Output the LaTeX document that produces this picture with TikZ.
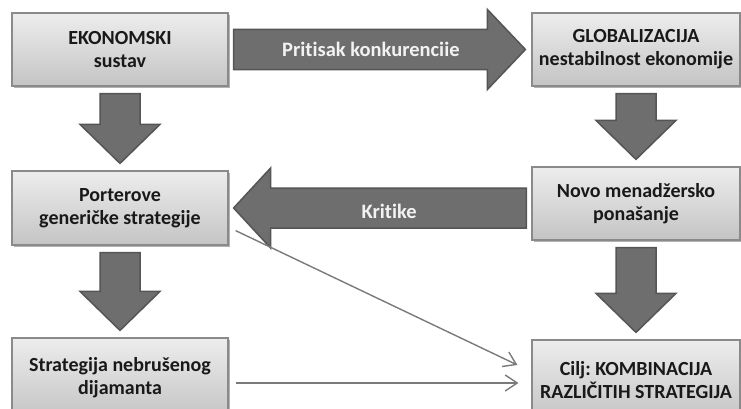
\documentclass[tikz,border=0pt]{standalone}
\usepackage{fontspec}
\setmainfont[Ligatures=NoCommon]{Carlito}
\frenchspacing
\usetikzlibrary{calc, shadows, arrows.meta}

\definecolor{boxtop}{HTML}{EDEDED}
\definecolor{boxbottom}{HTML}{C4C4C4}
\definecolor{boxline}{HTML}{8A8A8A}
\definecolor{arrowfill}{HTML}{6E6E6E}
\definecolor{arrowline}{HTML}{555555}
\definecolor{thinline}{HTML}{7A7A7A}

\tikzset{
    box/.style={draw=boxline, line width=1.2pt, top color=boxtop, bottom color=boxbottom,
        minimum height=73pt, align=center, text=black!90,
        font=\fontsize{20}{23}\selectfont\bfseries,
        drop shadow={shadow xshift=2pt, shadow yshift=-2pt, opacity=0.3, fill=black}},
    bigarrow/.style={fill=arrowfill, draw=arrowline, line width=1.5pt, line join=miter},
    arrowtext/.style={text=white!95!black, font=\fontsize{20.5}{22}\selectfont\bfseries},
    thinarrow/.style={draw=thinline, line width=1.4pt, -{Straight Barb[length=12pt, width=16pt]}}
}

% block arrows between boxes
\newcommand{\bigdown}[2]{%
    \draw[bigarrow] let \p1 = (#1.south), \p2 = (#2.north) in
        (\x1-20pt,\y1-7pt) -- (\x1+20pt,\y1-7pt) -- (\x1+20pt,\y2+46pt)
        -- (\x1+40pt,\y2+46pt) -- (\x1,\y2+7pt) -- (\x1-40pt,\y2+46pt)
        -- (\x1-20pt,\y2+46pt) -- cycle;
}
\newcommand{\bigright}[3]{%
    \draw[bigarrow] let \p1 = (#1.east), \p2 = (#2.west) in
        (\x1+5pt,\y1+20pt) -- (\x2-44pt,\y1+20pt) -- (\x2-44pt,\y1+40pt)
        -- (\x2-6pt,\y1) -- (\x2-44pt,\y1-40pt) -- (\x2-44pt,\y1-20pt)
        -- (\x1+5pt,\y1-20pt) -- cycle
        ({0.53*\x1+0.47*\x2},\y1) node[arrowtext] {#3};
}
\newcommand{\bigleft}[3]{%
    \draw[bigarrow] let \p1 = (#1.west), \p2 = (#2.east) in
        (\x1-5pt,\y2+20pt) -- (\x2+42pt,\y2+20pt) -- (\x2+42pt,\y2+40pt)
        -- (\x2+5pt,\y2) -- (\x2+42pt,\y2-40pt) -- (\x2+42pt,\y2-20pt)
        -- (\x1-5pt,\y2-20pt) -- cycle
        ({0.53*\x1+0.47*\x2},\y2-3pt) node[arrowtext] {#3};
}

\begin{document}
\begin{tikzpicture}[x=1pt, y=1pt]
    \useasboundingbox (0,0) rectangle (741,408);
    \clip (0,0) rectangle (741,408);

    % boxes
    \node[box, minimum width=216pt] (eko) at (120,358.5) {EKONOMSKI\\sustav};
    \node[box, minimum width=208pt] (glob) at (636,358.5) {GLOBALIZACIJA\\nestabilnost ekonomije};
    \node[box, minimum width=216pt, minimum height=74pt] (port) at (120,200) {Porterove\\generičke strategije};
    \node[box, minimum width=208pt] (novo) at (636,204.5) {Novo menadžersko\\ponašanje};
    \node[box, minimum width=216pt, minimum height=80pt] (strat) at (120,30) {Strategija nebrušenog\\dijamanta};
    \node[box, minimum width=208pt, minimum height=80pt] (cilj) at (636,28) {Cilj: KOMBINACIJA\\RAZLIČITIH STRATEGIJA};

    % big arrows
    \foreach \a/\b in {eko/port, port/strat, glob/novo, novo/cilj}
    {
        \bigdown{\a}{\b}
    }
    \bigright{eko}{glob}{Pritisak konkurenciie}
    \bigleft{novo}{port}{Kritike}

    % thin arrows
    \draw[thinarrow] ($(port.south east)+(7,15)$) -- ($(cilj.west)+(-14,15)$);
    \draw[thinarrow] ($(strat.east)+(7,-5)$) -- ($(cilj.west)+(-13,-3)$);
\end{tikzpicture}
\end{document}
